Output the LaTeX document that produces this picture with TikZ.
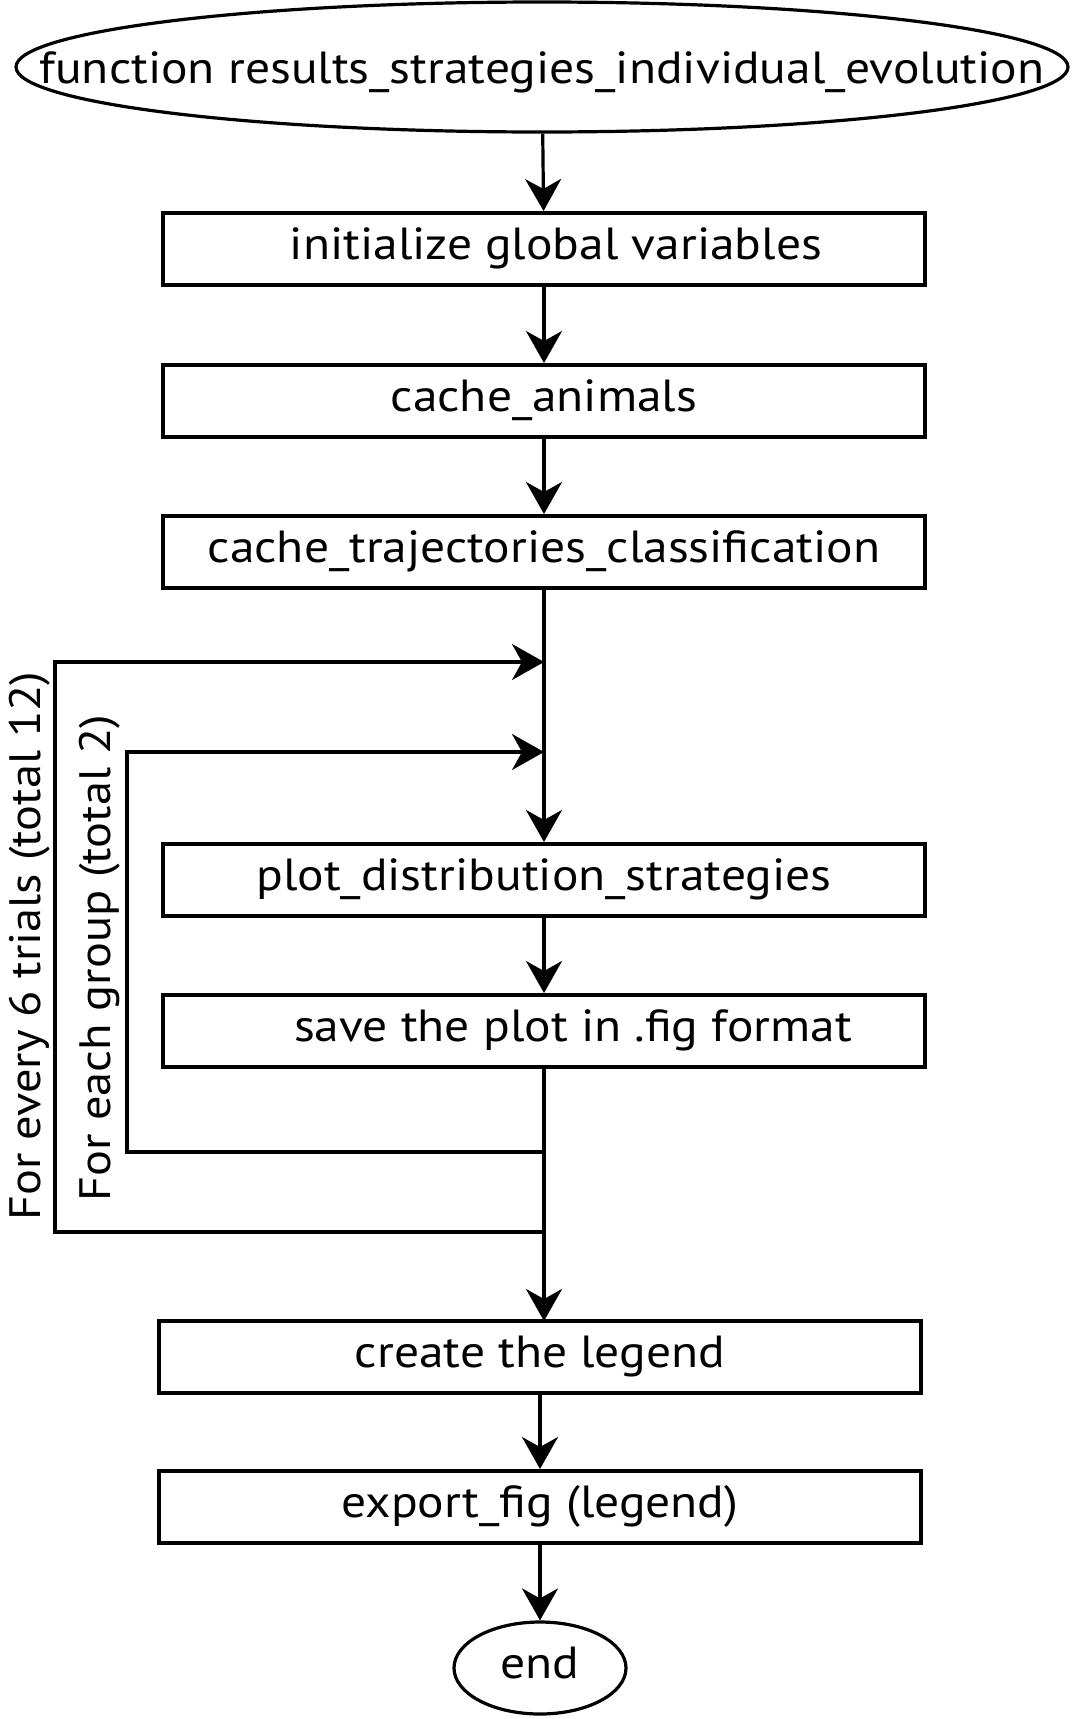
\documentclass[tikz,border=0pt]{standalone}
\usepackage{fontspec}
\setmainfont[FakeStretch=1.1]{PT Sans}
\usetikzlibrary{arrows.meta,shapes.geometric}
\begin{document}
\begin{tikzpicture}[x=0.5pt,y=-0.5pt,
  txt/.style={font=\fontsize{22.5}{26}\selectfont, text height=16pt, text depth=5.5pt},
  box/.style={txt, draw, line width=2pt, minimum width=381pt, minimum height=36pt, inner sep=0pt},
  oval/.style={txt, draw, ellipse, line width=1.6pt, inner ysep=0pt},
  conn/.style={line width=1.6pt, -{Stealth[length=16pt,width=18pt,inset=5pt]}},
  lab/.style={font=\fontsize{22}{26}\selectfont, rotate=90, anchor=base, inner sep=0pt}]
\useasboundingbox (0,0) rectangle (1075,1719);
\node[oval, inner xsep=-90pt, text height=22pt, minimum width=526pt, minimum height=65pt] (start) at (542,67) {function results\_strategies\_individual\_evolution};
\node[box] (b1) at (544,249) {\hspace*{12pt}initialize global variables};
\node[box] (b2) at (544,401) {cache\_animals};
\node[box] (b3) at (544,552) {cache\_trajectories\_classification};
\node[box] (b4) at (544,880) {plot\_distribution\_strategies};
\node[box] (b5) at (544,1031) {\hspace*{29pt}save the plot in .fig format};
\node[box] (b6) at (540,1357) {create the legend};
\node[box] (b7) at (540,1507) {export\_fig (legend)};
\node[oval, inner xsep=0pt, minimum width=86pt, minimum height=46pt] (stop) at (540,1668) {end};
\coordinate (j1) at (544,662);
\coordinate (j2) at (544,752);
\coordinate (k2) at (544,1152);
\coordinate (k1) at (544,1232);
\coordinate (o1) at (55,662);
\coordinate (o2) at (55,1232);
\coordinate (i1) at (127,752);
\coordinate (i2) at (127,1152);
\coordinate (c6) at (544,1321);
\draw[conn] (start) -- (b1);
\draw[conn] (b1) -- (b2);
\draw[conn] (b2) -- (b3);
\draw[conn] (b3) -- (b4);
\draw[conn] (b4) -- (b5);
\draw[conn] (b5.south) -- (c6);
\draw[conn] (b6) -- (b7);
\draw[conn] (b7) -- (stop);
\draw[conn] (k1) -- (o2) -- (o1) -- (j1);
\draw[conn] (k2) -- (i2) -- (i1) -- (j2);
\node[lab] (lo) at (40,946) {For every 6 trials (total 12)};
\node[lab] (li) at (110,958) {For each group (total 2)};
\end{tikzpicture}
\end{document}
